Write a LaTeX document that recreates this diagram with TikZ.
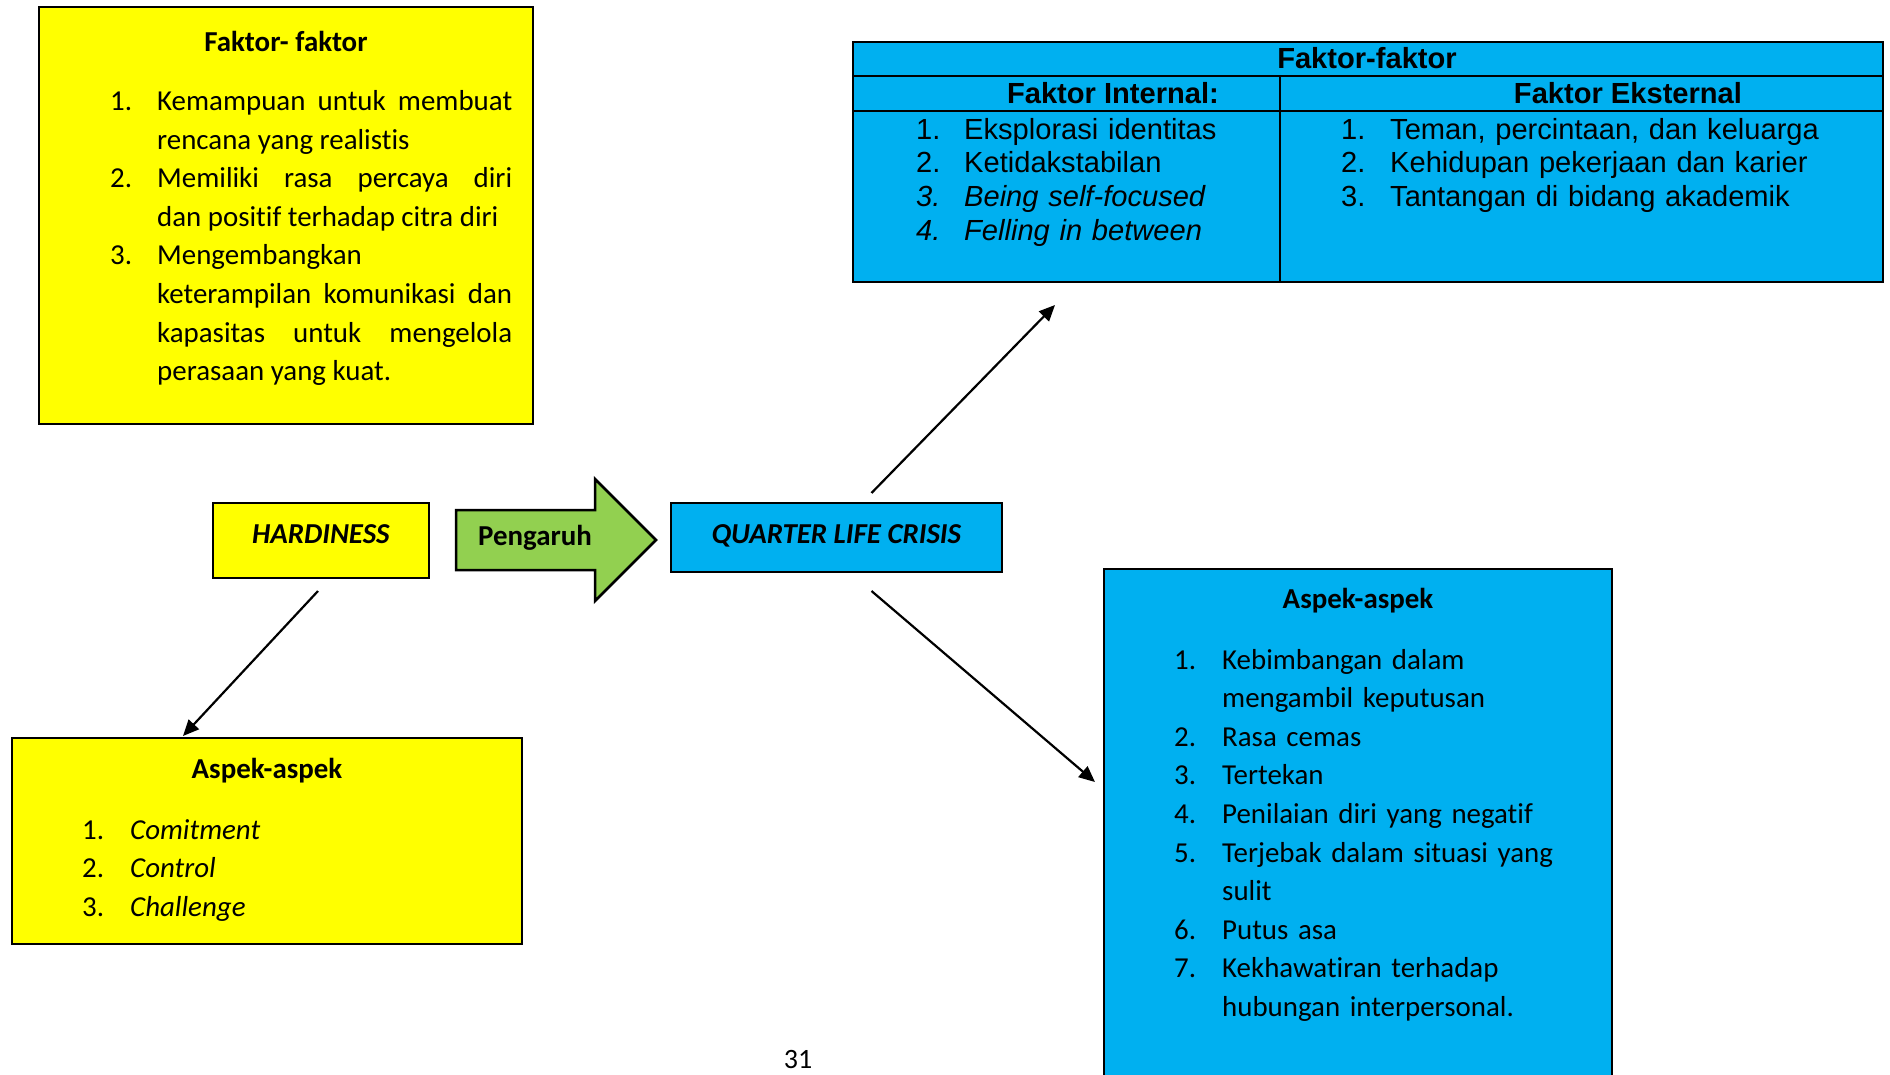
\documentclass[tikz,border=0pt]{standalone}
\usepackage{fontspec}
\setmainfont{Carlito}[Ligatures={TeX,NoCommon,NoRequired,NoContextual},Contextuals=NoAlternate]
\newfontfamily\arialfont{Liberation Sans}
\usetikzlibrary{arrows.meta,positioning}
\definecolor{kuning}{RGB}{255,255,0}
\definecolor{biru}{RGB}{0,176,240}
\definecolor{hijau}{RGB}{146,208,80}
\newlength\lebarno
\newcommand{\butir}[2]{\noindent\hangindent=\lebarno\hangafter=1\makebox[\lebarno][l]{#1}#2\par}
\hyphenpenalty=10000
\begin{document}
\begin{tikzpicture}[x=1pt,y=-1pt,>={Triangle[length=16pt,width=14pt]},
    font=\fontsize{28.9}{38.6}\selectfont,
    kotak/.style={draw,line width=2.5pt,outer sep=0pt,inner sep=0pt},
    isi/.style={inner sep=0pt,anchor=base west},
    judul/.style={inner sep=0pt,anchor=base,font=\fontsize{28.9}{38.6}\selectfont\bfseries},
    tabelteks/.style={inner sep=0pt,anchor=base west,font=\fontsize{29.1}{33.7}\selectfont\arialfont},
    tabeljudul/.style={inner sep=0pt,anchor=base,font=\fontsize{29.1}{33.7}\selectfont\arialfont\bfseries},
    garis/.style={line width=2.2pt}]
    \useasboundingbox (0,0) rectangle (1890,1074);
    \clip (0,0) rectangle (1890,1074);
    % faktor hardiness
    \node[kotak,fill=kuning,minimum width=494pt,minimum height=417pt,anchor=north west] (faktorH) at (39,7) {};
    \node[judul] (judulfaktorH) at (286,51) {Faktor- faktor};
    \node[isi,text width=402pt,align=justify] (isifaktorH) at (110,110.5) {\setlength\lebarno{47pt}%
        \butir{1.}{Kemampuan untuk membuat\linebreak rencana yang realistis}%
        \butir{2.}{Memiliki rasa percaya diri\linebreak dan positif terhadap citra diri}%
        \butir{3.}{Mengembangkan\newline keterampilan komunikasi dan\linebreak kapasitas untuk mengelola\linebreak perasaan yang kuat.}};
    % faktor quarter life crisis
    \node[kotak,line width=2pt,fill=biru,minimum width=1030pt,minimum height=240pt,anchor=north west] (faktorQ) at (853,42) {};
    \draw[line width=2pt] (853,76) -- (1883,76) (853,111) -- (1883,111) (1280,76) -- (1280,282);
    \node[tabeljudul] (judulfaktorQ) at (1367,68.5) {Faktor-faktor};
    \node[tabeljudul] (judulinternal) at (1113,103.5) {Faktor Internal:};
    \node[tabeljudul] (juduleksternal) at (1628,103.5) {Faktor Eksternal};
    \node[tabelteks,text width=330pt] (isiinternal) at (916,139) {\setlength\lebarno{48pt}%
        \butir{1.}{Eksplorasi identitas}%
        \butir{2.}{Ketidakstabilan}%
        \butir{\textit{3.}}{\textit{Being self-focused}}%
        \butir{\textit{4.}}{\textit{Felling in between}}};
    \node[tabelteks,text width=520pt] (isieksternal) at (1341,139) {\setlength\lebarno{49pt}%
        \butir{1.}{Teman, percintaan, dan keluarga}%
        \butir{2.}{Kehidupan pekerjaan dan karier}%
        \butir{3.}{Tantangan di bidang akademik}};
    % variabel
    \node[kotak,fill=kuning,minimum width=216pt,minimum height=75pt,text height=19pt,text depth=13pt] (hardiness) at (321,540.5) {\textbf{\textit{HARDINESS}}};
    \node[kotak,fill=biru,minimum width=331pt,minimum height=69pt,text height=19pt,text depth=8pt] (qlc) at (836.5,537.5) {\textbf{\textit{QUARTER LIFE CRISIS}}};
    \draw[line width=2.5pt,fill=hijau] (456,510) -- (595,510) -- (595,479) -- (656,540) -- (595,601) -- (595,570) -- (456,570) -- cycle;
    \node[judul] (pengaruh) at (535,545) {Pengaruh};
    % aspek hardiness
    \node[kotak,fill=kuning,minimum width=510pt,minimum height=206pt,anchor=north west] (aspekH) at (12,738) {};
    \node[judul] (judulaspekH) at (267,778.5) {Aspek-aspek};
    \node[isi,text width=300pt] (isiaspekH) at (82,839) {\setlength\lebarno{48pt}%
        \butir{1.}{\textit{Comitment}}%
        \butir{2.}{\textit{Control}}%
        \butir{3.}{\textit{Challenge}}};
    % aspek quarter life crisis
    \node[kotak,fill=biru,minimum width=508pt,minimum height=521pt,anchor=north west] (aspekQ) at (1104,569) {};
    \node[judul] (judulaspekQ) at (1358,608.5) {Aspek-aspek};
    \node[isi,text width=430pt] (isiaspekQ) at (1174,669) {\setlength\lebarno{48pt}%
        \butir{1.}{Kebimbangan dalam\newline mengambil keputusan}%
        \butir{2.}{Rasa cemas}%
        \butir{3.}{Tertekan}%
        \butir{4.}{Penilaian diri yang negatif}%
        \butir{5.}{Terjebak dalam situasi yang\newline sulit}%
        \butir{6.}{Putus asa}%
        \butir{7.}{Kekhawatiran terhadap\newline hubungan interpersonal.}};
    % panah
    \coordinate (ujungatas) at (1055,305);
    \coordinate (ujungbawah) at (1095,782);
    \coordinate (ujungkiri) at (183,736);
    \draw[garis,->] ([xshift=35pt,yshift=10pt]qlc.north) -- (ujungatas);
    \draw[garis,->] ([xshift=35pt,yshift=-19pt]qlc.south) -- (ujungbawah);
    \draw[garis,->] ([xshift=-3pt,yshift=-13pt]hardiness.south) -- (ujungkiri);
    \node[inner sep=0pt,anchor=base,font=\fontsize{28}{30}\selectfont] (halaman) at (798,1068) {31};
\end{tikzpicture}
\end{document}
